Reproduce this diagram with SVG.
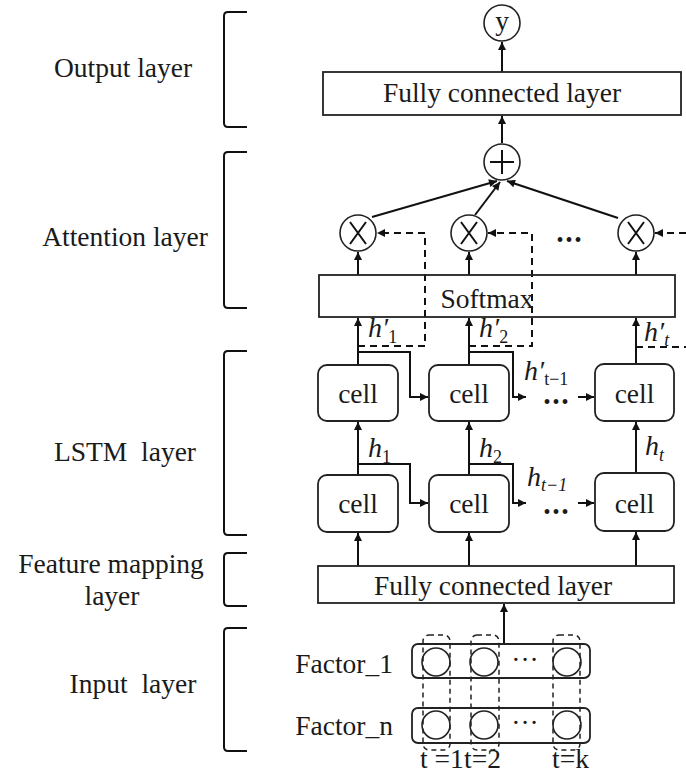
<svg xmlns="http://www.w3.org/2000/svg" width="686" height="780" viewBox="0 0 686 780">
<style>
text{font-family:"Liberation Serif","Times New Roman",serif;font-size:27.5px;fill:#1a1a1a}
.c{text-anchor:middle}
.e{text-anchor:end}
.m{font-style:italic;font-size:28px}
.sub{font-size:18px}
.box{fill:#fff;stroke:#222;stroke-width:1.8}
.circ{fill:#fff;stroke:#222;stroke-width:1.6}
.ln{fill:none;stroke:#111;stroke-width:2}
.arr{fill:none;stroke:#111;stroke-width:2;marker-end:url(#ah)}
.dash{fill:none;stroke:#111;stroke-width:2;stroke-dasharray:7,5}
.darr{fill:none;stroke:#111;stroke-width:2;stroke-dasharray:7,5;marker-end:url(#ah)}
.brk{fill:none;stroke:#111;stroke-width:2}
.dbox{fill:none;stroke:#222;stroke-width:1.5;stroke-dasharray:5,4}
.dots{font-size:20px;letter-spacing:2px}
</style>
<defs>
<marker id="ah" viewBox="0 0 10 10" refX="10" refY="5" markerWidth="9" markerHeight="8" markerUnits="userSpaceOnUse" orient="auto">
<path d="M0,0 L10,5 L0,10 z" fill="#111"/>
</marker>
</defs>

<g id="brackets">
<path class="brk" d="M247,12 H228 Q224,12 224,16 V123 Q224,127 228,127 H247"/>
<path class="brk" d="M247,152 H228 Q224,152 224,156 V304 Q224,308 228,308 H247"/>
<path class="brk" d="M247,351 H228 Q224,351 224,355 V531 Q224,535 228,535 H247"/>
<path class="brk" d="M247,553 H228 Q224,553 224,557 V602 Q224,606 228,606 H247"/>
<path class="brk" d="M247,628 H228 Q224,628 224,632 V747 Q224,751 228,751 H247"/>
</g>

<g id="layer-labels">
<text class="c" x="123" y="77">Output layer</text>
<text class="c" x="125" y="246">Attention layer</text>
<text class="c" x="125" y="461">LSTM&#160; layer</text>
<text class="c" x="111" y="573">Feature mapping</text>
<text class="c" x="112" y="605">layer</text>
<text class="c" x="133" y="693">Input&#160; layer</text>
</g>

<g id="connectors">
<line class="arr" x1="502" y1="72" x2="502" y2="42"/>
<line class="arr" x1="502" y1="143" x2="502" y2="116"/>
<line class="arr" x1="372" y1="217" x2="497" y2="181"/>
<line class="arr" x1="475" y1="215" x2="500" y2="182"/>
<line class="arr" x1="618" y1="218" x2="507" y2="181"/>
<line class="arr" x1="358" y1="275" x2="358" y2="252"/>
<line class="arr" x1="469" y1="275" x2="469" y2="252"/>
<line class="arr" x1="636" y1="275" x2="636" y2="252"/>
<path class="darr" d="M358,346 H425 V233 H377"/>
<path class="darr" d="M469,346 H532 V233 H488"/>
<line class="darr" x1="686" y1="233" x2="655" y2="233"/>
<line class="dash" x1="636" y1="347" x2="686" y2="347"/>
<line class="arr" x1="358" y1="365" x2="358" y2="318"/>
<line class="arr" x1="469" y1="365" x2="469" y2="318"/>
<line class="arr" x1="636" y1="364" x2="636" y2="318"/>
<path class="arr" d="M358,352 H410 V397 H428"/>
<path class="arr" d="M469,352 H513 V397 H526"/>
<line class="arr" x1="578" y1="397" x2="594" y2="397"/>
<line class="arr" x1="358" y1="475" x2="358" y2="422"/>
<line class="arr" x1="469" y1="475" x2="469" y2="422"/>
<line class="arr" x1="636" y1="473" x2="636" y2="422"/>
<path class="arr" d="M358,464 H410 V503 H428"/>
<path class="arr" d="M469,464 H513 V503 H526"/>
<line class="arr" x1="578" y1="503" x2="594" y2="503"/>
<line class="arr" x1="358" y1="566" x2="358" y2="533"/>
<line class="arr" x1="469" y1="566" x2="469" y2="533"/>
<line class="arr" x1="636" y1="566" x2="636" y2="532"/>
<line class="arr" x1="504" y1="643" x2="504" y2="604"/>
</g>

<g id="output-y">
<circle class="circ" cx="502" cy="23" r="18"/>
<text class="c" x="502" y="30">y</text>
</g>

<g id="fc-output">
<rect class="box" x="323" y="72" width="358" height="43"/>
<text class="c" x="502" y="102">Fully connected layer</text>
</g>

<g id="sum">
<circle class="circ" cx="502" cy="162" r="18"/>
<path class="ln" d="M490,162 H514 M502,150 V174" stroke-width="2.5"/>
</g>

<g id="mult-1">
<circle class="circ" cx="358" cy="233" r="18"/>
<path class="ln" d="M350,222 L366,244 M366,222 L350,244" stroke-width="1.8"/>
</g>
<g id="mult-2">
<circle class="circ" cx="469" cy="233" r="18"/>
<path class="ln" d="M461,222 L477,244 M477,222 L461,244" stroke-width="1.8"/>
</g>
<g id="mult-t">
<circle class="circ" cx="636" cy="233" r="18"/>
<path class="ln" d="M628,222 L644,244 M644,222 L628,244" stroke-width="1.8"/>
</g>
<text class="dots c" x="570" y="247">•••</text>

<g id="softmax">
<rect class="box" x="319" y="275" width="356" height="42" fill-opacity="0"/>
<text class="c" x="487" y="308">Softmax</text>
</g>

<g id="h-labels">
<text class="m" x="368" y="337">h′<tspan class="sub" font-style="normal" dy="6">1</tspan></text>
<text class="m" x="479" y="337">h′<tspan class="sub" font-style="normal" dy="6">2</tspan></text>
<text class="m" x="644" y="341">h′<tspan class="sub" dy="5">t</tspan></text>
<text class="m" x="524" y="380">h′<tspan class="sub" font-style="normal" dy="5">t−1</tspan></text>
<text class="m" x="368" y="457">h<tspan class="sub" font-style="normal" dy="6">1</tspan></text>
<text class="m" x="479" y="457">h<tspan class="sub" font-style="normal" dy="6">2</tspan></text>
<text class="m" x="645" y="455">h<tspan class="sub" dy="6">t</tspan></text>
<text class="m" x="527" y="486">h<tspan class="sub" dy="5">t−1</tspan></text>
<text class="dots c" x="557" y="409">•••</text>
<text class="dots c" x="557" y="519">•••</text>
</g>

<g id="cell-u1"><rect class="box" x="318" y="365" width="80" height="56" rx="9"/><text class="c" x="358" y="403">cell</text></g>
<g id="cell-u2"><rect class="box" x="429" y="365" width="80" height="56" rx="9"/><text class="c" x="469" y="403">cell</text></g>
<g id="cell-u3"><rect class="box" x="595" y="364" width="79" height="57" rx="9"/><text class="c" x="634.5" y="403">cell</text></g>
<g id="cell-l1"><rect class="box" x="318" y="475" width="80" height="57" rx="9"/><text class="c" x="358" y="513">cell</text></g>
<g id="cell-l2"><rect class="box" x="429" y="475" width="80" height="57" rx="9"/><text class="c" x="469" y="513">cell</text></g>
<g id="cell-l3"><rect class="box" x="595" y="473" width="79" height="58" rx="9"/><text class="c" x="634.5" y="513">cell</text></g>

<g id="fc-feature">
<rect class="box" x="318" y="566" width="356" height="37"/>
<text class="c" x="493" y="595">Fully connected layer</text>
</g>

<g id="input">
<rect class="box" x="412" y="644" width="178" height="34" rx="6" fill="none"/>
<rect class="box" x="412" y="708" width="178" height="35" rx="6" fill="none"/>
<circle class="circ" cx="436" cy="662" r="14" fill="none"/>
<circle class="circ" cx="484" cy="662" r="14" fill="none"/>
<circle class="circ" cx="567" cy="662" r="14" fill="none"/>
<circle class="circ" cx="436" cy="725" r="14" fill="none"/>
<circle class="circ" cx="484" cy="725" r="14" fill="none"/>
<circle class="circ" cx="567" cy="725" r="14" fill="none"/>
<text class="c" x="525" y="669">···</text>
<text class="c" x="525" y="732">···</text>
<rect class="dbox" x="423" y="635" width="27" height="115" rx="6"/>
<rect class="dbox" x="471" y="635" width="28" height="115" rx="6"/>
<rect class="dbox" x="553" y="635" width="27" height="115" rx="6"/>
<text class="e" x="393" y="673">Factor_1</text>
<text class="e" x="393" y="735">Factor_n</text>
<text x="420" y="768">t =1</text>
<text x="464" y="768">t=2</text>
<text x="552" y="768">t=k</text>
</g>
</svg>
